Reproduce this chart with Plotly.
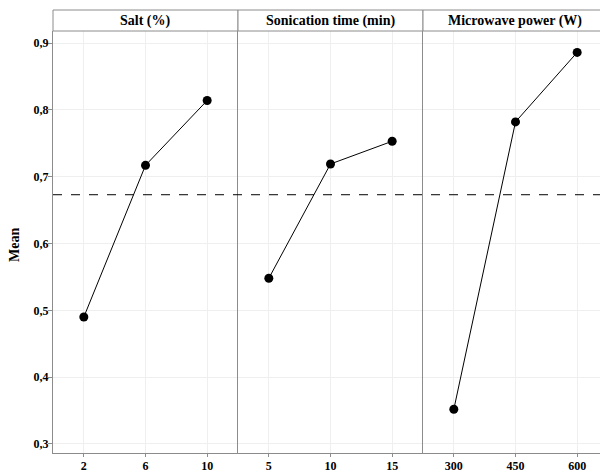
import plotly.graph_objects as go
from plotly.subplots import make_subplots

factors = ["Salt (%)", "Sonication time (min)", "Microwave power (W)"]
levels = [["2", "6", "10"], ["5", "10", "15"], ["300", "450", "600"]]
means = [[0.490, 0.717, 0.814], [0.548, 0.719, 0.753], [0.352, 0.782, 0.886]]
grand_mean = 0.673
y_ticks = [0.3, 0.4, 0.5, 0.6, 0.7, 0.8, 0.9]

FONT = "Liberation Serif"
GRAY = "#8c8c8c"
GRID = "#efefef"

# page body has an 8px margin; figure is sized so that it fills 608x473
W, H = 600, 465
ML, MR, MT, MB = 45, 0, 23, 20

fig = make_subplots(rows=1, cols=3, shared_yaxes=True, horizontal_spacing=0)

tick_font = dict(family=FONT, size=12, color="black", weight=700)

for i in range(3):
    fig.add_trace(go.Scatter(
        x=levels[i], y=means[i], mode="lines+markers",
        line=dict(color="black", width=1),
        marker=dict(color="black", size=9),
        showlegend=False, cliponaxis=False), row=1, col=i + 1)
    fig.update_xaxes(type="category", range=[-0.5, 2.5], showgrid=True, gridcolor=GRID,
                     gridwidth=1, showline=True, linecolor=GRAY, linewidth=1,
                     ticks="outside", ticklen=3, tickcolor=GRAY, ticklabelstandoff=-1,
                     tickfont=tick_font,
                     automargin=False, zeroline=False, row=1, col=i + 1)
    fig.update_yaxes(range=[0.2865, 0.918], tickvals=y_ticks, showgrid=True, gridcolor=GRID,
                     gridwidth=1, showline=True, linecolor=GRAY, linewidth=1,
                     automargin=False, zeroline=False, row=1, col=i + 1)

fig.update_yaxes(ticks="outside", ticklen=4, tickcolor=GRAY, tickformat=".1f",
                 ticklabelstandoff=-3, tickfont=tick_font, row=1, col=1)

plot_w = W - ML - MR
plot_h = H - MT - MB

# y-axis title
fig.add_annotation(xref="paper", yref="paper", x=(14 - 53) / plot_w, y=(453 - 245) / plot_h,
                   text="<b>Mean</b>", textangle=-90, showarrow=False,
                   font=dict(family=FONT, size=14, color="black"),
                   xanchor="center", yanchor="middle")

# grand mean dashed line
fig.add_shape(type="line", xref="paper", x0=0, x1=1, yref="y", y0=grand_mean, y1=grand_mean,
              line=dict(color="black", width=1, dash="dash"), layer="above")

# strips
strip_top = 1 + 21 / plot_h
for i in range(3):
    x0 = i / 3
    x1 = (i + 1) / 3
    fig.add_shape(type="rect", xref="paper", yref="paper", x0=x0, x1=x1, y0=1, y1=strip_top,
                  line=dict(color=GRAY, width=1), fillcolor="white", layer="above")
    fig.add_annotation(xref="paper", yref="paper", x=(x0 + x1) / 2, y=(1 + strip_top) / 2,
                       text="<b>" + factors[i] + "</b>", showarrow=False,
                       font=dict(family=FONT, size=14, color="black"),
                       xanchor="center", yanchor="middle")

fig.update_layout(width=W, height=H, margin=dict(l=ML, r=MR, t=MT, b=MB, autoexpand=False),
                  plot_bgcolor="white", paper_bgcolor="white", separators=",.",
                  font=dict(family=FONT, color="black"))

fig.write_html("out.html")
